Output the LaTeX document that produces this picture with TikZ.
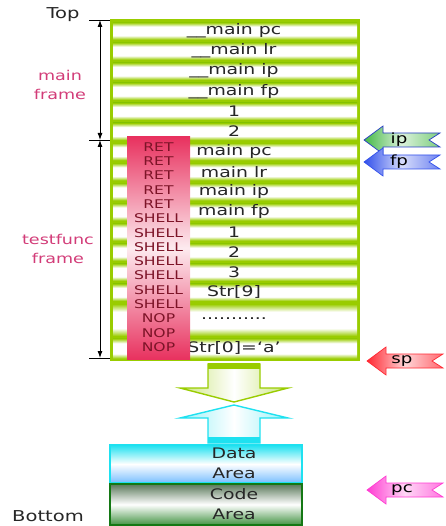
\documentclass[tikz,border=0pt]{standalone}
\usepackage{fontspec}
\setmainfont{DejaVu Sans}[FakeStretch=1.3]
\usetikzlibrary{arrows.meta}
\definecolor{sgreen}{RGB}{153,204,0}
\definecolor{pinklbl}{RGB}{210,60,120}
\definecolor{redbox}{RGB}{232,50,95}
\definecolor{rettext}{RGB}{125,20,40}
\definecolor{ipgreen}{RGB}{70,185,70}
\definecolor{ipedge}{RGB}{40,60,200}
\definecolor{fpblue}{RGB}{50,80,235}
\definecolor{spred}{RGB}{255,40,50}
\definecolor{pcmag}{RGB}{255,60,210}
\definecolor{dcyan}{RGB}{30,225,240}
\definecolor{dblue}{RGB}{120,190,255}
\definecolor{cgreen}{RGB}{20,120,20}
\definecolor{cgray}{RGB}{90,120,90}
\pgfdeclareverticalshading{rowshade}{100bp}{color(0bp)=(sgreen); color(25bp)=(sgreen); color(37bp)=(white); color(63bp)=(white); color(75bp)=(sgreen); color(100bp)=(sgreen)}
\newcommand\ptrarrow[6]{% name, tipx, yc, fill colour, edge colour, text
  \shade[draw=#5, line width=0.7pt, left color=#4, right color=#4!70, middle color=#4!20]
    (#2,#3) -- ++(19,-14) -- ++(0,7) -- ++(57,0) -- ++(-11,7) -- ++(11,7)
    -- ++(-57,0) -- ++(0,7) -- cycle;
  \node[ptrlbl] (#1) at (#2+35,#3) {#6};}
\begin{document}
\begin{tikzpicture}[x=1pt,y=-1pt,
  rowtxt/.style={inner sep=0pt, font=\fontsize{14.5}{16}\selectfont, text=black!85},
  rettxt/.style={inner sep=0pt, font=\fontsize{12}{13}\selectfont, text=rettext},
  frlbl/.style={align=center, inner sep=0pt, font=\fontsize{13.5}{19}\selectfont, text=pinklbl},
  ptrlbl/.style={inner sep=0pt, font=\fontsize{14}{16}\selectfont, text=black},
  plain/.style={inner sep=0pt, font=\fontsize{15}{17}\selectfont, text=black!85},
  dimarrow/.style={{Latex[length=7pt,width=5pt]}-{Latex[length=7pt,width=5pt]}, line width=0.9pt},
  tick/.style={line width=0.8pt}]
\useasboundingbox (0,0) rectangle (445,526);

% ---------- stack ----------
\fill[sgreen] (110,19) rectangle (360,361);
\foreach \i in {0,...,13}{
  \pgfmathsetmacro\rt{21+20.1*\i}
  \shade[shading=rowshade] (113,\rt+1.5) rectangle (357,\rt+18.6);
}
\shade[shading=rowshade] (113,304) rectangle (357,336);
\shade[shading=rowshade] (113,338.5) rectangle (357,358.5);

% row texts
\foreach \t [count=\k from 0] in {\_\_main pc,\_\_main lr,\_\_main ip,\_\_main fp,1,2,main pc,main lr,main ip,main fp,1,2,3,Str[9]}{
  \pgfmathsetmacro\yc{31+20.1*\k}
  \node[rowtxt] (row\k) at (234,\yc) {\t};
}
\node[rowtxt] (row14) at (234,319) {...........};
\node[rowtxt] (row15) at (234,348) {Str[0]=`a'};

% red box
\shade[top color=redbox, bottom color=redbox, middle color=redbox!10] (127,137) rectangle (190,359);
\foreach \t [count=\k from 0] in {RET,RET,RET,RET,RET,SHELL,SHELL,SHELL,SHELL,SHELL,SHELL,SHELL,NOP,NOP,NOP}{
  \pgfmathsetmacro\yc{147+14.29*\k}
  \node[rettxt] (ret\k) at (158.5,\yc) {\t};
}

% ---------- left dimension arrows ----------
\coordinate (dTop) at (100,20);
\coordinate (dMid) at (100,140);
\coordinate (dBot) at (100,358);
\coordinate (tkTop) at (89,20);
\coordinate (tkMid) at (89,140);
\coordinate (tkBot) at (89,358);
\coordinate (skTop) at (110,20);
\coordinate (skMid) at (110,140);
\coordinate (skBot) at (110,358);
\draw[tick] (tkTop) -- (skTop);
\draw[tick] (tkMid) -- (skMid);
\draw[tick] (tkBot) -- (skBot);
\draw[dimarrow] (dTop) -- (dMid);
\draw[dimarrow] (dMid) -- (dBot);

\node[plain] (top) at (63,15) {Top};
\node[frlbl] (mainframe) at (60,85) {main\\frame};
\node[frlbl] (testframe) at (58,249) {testfunc\\frame};
\node[plain] (bottom) at (48,516) {Bottom};

% ---------- pointers ----------
\ptrarrow{ip}{364}{140}{ipgreen}{ipedge}{ip}
\ptrarrow{fp}{364}{162}{fpblue}{fpblue}{fp}
\ptrarrow{sp}{367}{361}{spred}{spred}{sp}
\ptrarrow{pc}{367}{490}{pcmag}{pcmag}{pc}

% ---------- big arrows ----------
\shade[draw=sgreen, line width=1.4pt, left color=sgreen!50, right color=sgreen!50, middle color=white]
  (208,364) -- (260,364) -- (260,388) -- (288,388) -- (234,402) -- (180,388) -- (208,388) -- cycle;
\fill[sgreen] (208,363) rectangle (260,369);
\shade[draw=dcyan, line width=1.4pt, left color=dcyan!45, right color=dcyan!45, middle color=white]
  (234,405) -- (288,418) -- (260,418) -- (260,443) -- (208,443) -- (208,418) -- (180,418) -- cycle;
\fill[dcyan] (208,437) rectangle (260,443);

% ---------- data / code areas ----------
\shade[top color=dcyan, bottom color=dblue, middle color=white] (110,445) rectangle (302,483);
\draw[dcyan, line width=2pt] (110,445) rectangle (302,483);
\shade[top color=cgray, bottom color=cgreen!80, middle color=white] (110,484) rectangle (302,525);
\draw[cgreen, line width=2pt] (110,484) rectangle (302,525);
\node[rowtxt, align=center, font=\fontsize{14.5}{19.5}\selectfont] (data) at (234,463.5) {Data\\Area};
\node[rowtxt, align=center, font=\fontsize{14.5}{19.5}\selectfont] (code) at (234,504) {Code\\Area};
\end{tikzpicture}
\end{document}
